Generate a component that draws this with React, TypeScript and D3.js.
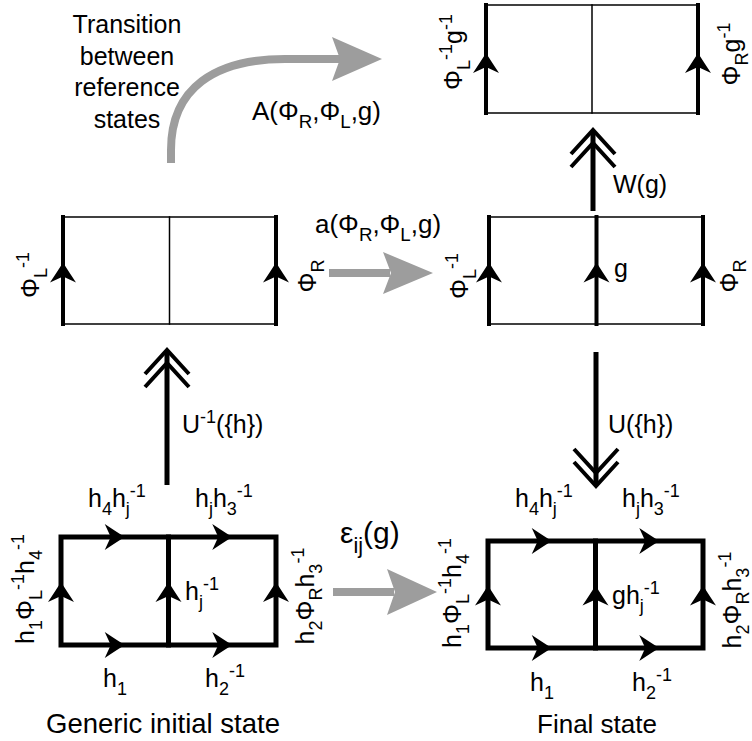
import React, { useEffect, useRef } from 'react';
import * as d3 from 'd3';

// ---- diagram content ----
const titleLines = ['Transition', 'between', 'reference', 'states'];
const captions = ['Generic initial state', 'Final state'];

// label markup: _x / _{..} subscript, ^x / ^{..} superscript
const topBoxLabels = ['Φ_L^{-1}g^{-1}', 'Φ_Rg^{-1}'];
const refBoxLabels = ['Φ_L^{-1}', 'Φ_R'];
const midBoxLabels = ['Φ_L^{-1}', 'g', 'Φ_R'];
const bottomSideLabels = ['h_1Φ_L^{-1}h_4^{-1}', 'h_2Φ_Rh_3^{-1}'];
const bottomTopLabels = ['h_4h_j^{-1}', 'h_jh_3^{-1}'];
const bottomBottomLabels = ['h_1', 'h_2^{-1}'];
const bottomMiddleLabels = ['h_j^{-1}', 'gh_j^{-1}'];
const transitionLabels = ['A(Φ_R,Φ_L,g)', 'a(Φ_R,Φ_L,g)', 'ε_{ij}(g)'];
const moveLabels = ['U^{-1}({h})', 'W(g)', 'U({h})'];

const FONT = "'Liberation Sans', Arial, Helvetica, sans-serif";
const GRAY = '#9d9d9d';

type Part = { text: string; kind: 'n' | 'sub' | 'sup' };

function parseLabel(s: string): Part[] {
  const out: Part[] = [];
  let buf = '';
  let i = 0;
  while (i < s.length) {
    const c = s[i];
    if (c === '_' || c === '^') {
      if (buf) {
        out.push({ text: buf, kind: 'n' });
        buf = '';
      }
      let t = '';
      if (s[i + 1] === '{') {
        const j = s.indexOf('}', i + 2);
        t = s.slice(i + 2, j);
        i = j + 1;
      } else {
        t = s[i + 1];
        i += 2;
      }
      out.push({ text: t, kind: c === '_' ? 'sub' : 'sup' });
    } else {
      buf += c;
      i++;
    }
  }
  if (buf) out.push({ text: buf, kind: 'n' });
  return out;
}

type Sel = d3.Selection<SVGGElement, unknown, null, undefined>;

function addLabel(
  g: Sel,
  str: string,
  x: number,
  y: number,
  opts: { size?: number; anchor?: string; rotate?: boolean } = {}
) {
  const size = opts.size ?? 25;
  const text = g
    .append('text')
    .attr('font-size', size)
    .attr('text-anchor', opts.anchor ?? 'start')
    .attr('fill', '#000');
  if (opts.rotate) {
    text.attr('transform', `translate(${x},${y}) rotate(-90)`);
  } else {
    text.attr('x', x).attr('y', y);
  }
  let shift = 0;
  parseLabel(str).forEach((p) => {
    const target = p.kind === 'sub' ? size * 0.32 : p.kind === 'sup' ? -size * 0.4 : 0;
    text
      .append('tspan')
      .attr('dy', target - shift)
      .attr('font-size', p.kind === 'n' ? size : size * 0.72)
      .text(p.text);
    shift = target;
  });
}

// concave arrowhead on lattice edges, tip at (x,y), pointing 'up' or 'right'
function edgeHead(g: Sel, x: number, y: number, dir: 'up' | 'right') {
  const rot = dir === 'up' ? -90 : 0;
  g.append('path')
    .attr('d', 'M0,0 Q-8,-5 -20,-13 L-14,0 L-20,13 Q-8,5 0,0 Z')
    .attr('transform', `translate(${x},${y}) rotate(${rot})`)
    .attr('fill', '#000');
}

// double chevron for the gauge moves
function chevrons(g: Sel, x: number, tip: number, dir: 'up' | 'down') {
  const s = dir === 'up' ? 1 : -1;
  [0, 13].forEach((off) => {
    const ty = tip + s * off;
    g.append('path')
      .attr('d', `M${x - 22},${ty + s * 24} L${x},${ty} L${x + 22},${ty + s * 24}`)
      .attr('fill', 'none')
      .attr('stroke', '#000')
      .attr('stroke-width', 4);
  });
}

function grayArrow(g: Sel, path: string, tipX: number, tipY: number, half: number) {
  g.append('path')
    .attr('d', path)
    .attr('fill', 'none')
    .attr('stroke', GRAY)
    .attr('stroke-width', 8);
  g.append('path')
    .attr(
      'd',
      `M${tipX},${tipY} L${tipX - 50},${tipY - half} L${tipX - 42},${tipY} L${tipX - 50},${tipY + half} Z`
    )
    .attr('fill', GRAY);
}

export default function App() {
  const ref = useRef<SVGSVGElement>(null);

  useEffect(() => {
    const svg = d3.select(ref.current);
    svg.selectAll('*').remove();
    const g = svg.append('g').attr('font-family', FONT) as unknown as Sel;

    const line = (x1: number, y1: number, x2: number, y2: number, w: number) =>
      g
        .append('line')
        .attr('x1', x1)
        .attr('y1', y1)
        .attr('x2', x2)
        .attr('y2', y2)
        .attr('stroke', '#000')
        .attr('stroke-width', w)
        .attr('stroke-linecap', 'square');

    // ---- top box (target reference state) ----
    {
      const x0 = 486, x1 = 698, y0 = 5, y1 = 113;
      const xm = (x0 + x1) / 2, ym = (y0 + y1) / 2;
      line(x0, y0, x1, y0, 1.5);
      line(x0, y1, x1, y1, 1.5);
      line(xm, y0, xm, y1, 1.5);
      line(x0, y0, x0, y1, 4);
      line(x1, y0, x1, y1, 4);
      edgeHead(g, x0, ym - 6, 'up');
      edgeHead(g, x1, ym - 6, 'up');
      addLabel(g, topBoxLabels[0], 462, 52, { anchor: 'middle', rotate: true });
      addLabel(g, topBoxLabels[1], 740, 54, { anchor: 'middle', rotate: true });
    }

    // ---- middle-left box (reference state) ----
    {
      const x0 = 63, x1 = 276, y0 = 217, y1 = 324;
      const xm = (x0 + x1) / 2, ym = (y0 + y1) / 2;
      line(x0, y0, x1, y0, 1.5);
      line(x0, y1, x1, y1, 1.5);
      line(xm, y0, xm, y1, 1.5);
      line(x0, y0, x0, y1, 4);
      line(x1, y0, x1, y1, 4);
      edgeHead(g, x0, ym - 8, 'up');
      edgeHead(g, x1, ym - 8, 'up');
      addLabel(g, refBoxLabels[0], 39, 275, { anchor: 'middle', rotate: true });
      addLabel(g, refBoxLabels[1], 316, 276, { anchor: 'middle', rotate: true });
    }

    // ---- middle-right box ----
    {
      const x0 = 489, x1 = 703, y0 = 217, y1 = 324;
      const xm = (x0 + x1) / 2 + 0.5, ym = (y0 + y1) / 2;
      line(x0, y0, x1, y0, 1.5);
      line(x0, y1, x1, y1, 1.5);
      line(x0, y0, x0, y1, 4);
      line(xm, y0, xm, y1, 4);
      line(x1, y0, x1, y1, 4);
      [x0, xm, x1].forEach((x) => edgeHead(g, x, ym - 8, 'up'));
      addLabel(g, midBoxLabels[0], 468, 276, { anchor: 'middle', rotate: true });
      addLabel(g, midBoxLabels[1], 614, 277);
      addLabel(g, midBoxLabels[2], 738, 276, { anchor: 'middle', rotate: true });
    }

    // ---- bottom boxes (generic initial / final state) ----
    const bottom = [
      { x0: 61, x1: 276, y0: 537, y1: 645, cx: 163 },
      { x0: 488, x1: 703, y0: 541, y1: 648, cx: 597 },
    ];
    bottom.forEach((b, i) => {
      const xm = (b.x0 + b.x1) / 2;
      const ym = (b.y0 + b.y1) / 2;
      g.append('rect')
        .attr('x', b.x0)
        .attr('y', b.y0)
        .attr('width', b.x1 - b.x0)
        .attr('height', b.y1 - b.y0)
        .attr('fill', 'none')
        .attr('stroke', '#000')
        .attr('stroke-width', 5);
      line(xm, b.y0, xm, b.y1, 5);
      [b.x0, xm, b.x1].forEach((x) => edgeHead(g, x, ym - 9, 'up'));
      [b.y0, b.y1].forEach((y) => {
        edgeHead(g, (b.x0 + xm) / 2 + 10, y, 'right');
        edgeHead(g, (xm + b.x1) / 2 + 10, y, 'right');
      });
      const dx = b.x0 - 61;
      const dy = b.y0 - 537;
      addLabel(g, bottomTopLabels[0], 88 + dx, 507);
      addLabel(g, bottomTopLabels[1], 195 + dx, 507);
      addLabel(g, bottomMiddleLabels[i], 185 + dx, 600 + dy);
      addLabel(g, bottomBottomLabels[0], 103 + dx, 687 + dy);
      addLabel(g, bottomBottomLabels[1], 205 + dx, 687 + dy);
      addLabel(g, bottomSideLabels[0], 34 + dx, 589 + dy, { anchor: 'middle', rotate: true });
      addLabel(g, bottomSideLabels[1], 314 + dx, 596 + dy, { anchor: 'middle', rotate: true });
      addLabel(g, captions[i], b.cx, 733, { anchor: 'middle', size: i === 0 ? 27.5 : 26 });
    });

    // ---- gray transitions ----
    grayArrow(g, 'M171,163 L171,150 C171,88 215,59 285,59 L340,59', 382, 59, 22);
    grayArrow(g, 'M329,273 L390,273', 433, 273, 21);
    grayArrow(g, 'M333,592 L394,592', 437, 592, 23);
    titleLines.forEach((t, i) =>
      addLabel(g, t, 127, 33 + i * 31.7, { anchor: 'middle' })
    );
    addLabel(g, transitionLabels[0], 252, 120, { size: 26 });
    addLabel(g, transitionLabels[1], 315, 233, { size: 26 });
    addLabel(g, transitionLabels[2], 340, 543, { size: 30 });

    // ---- black gauge moves ----
    line(167, 485, 167, 353, 5).attr('stroke-linecap', 'butt');
    chevrons(g, 167, 350, 'up');
    addLabel(g, moveLabels[0], 182, 433);

    line(593, 211, 593, 133, 5).attr('stroke-linecap', 'butt');
    chevrons(g, 593, 130, 'up');
    addLabel(g, moveLabels[1], 613, 193);

    line(596, 352, 596, 483, 5).attr('stroke-linecap', 'butt');
    chevrons(g, 596, 486, 'down');
    addLabel(g, moveLabels[2], 608, 433);
  }, []);

  return (
    <svg
      ref={ref}
      width={752}
      height={741}
      style={{ position: 'absolute', left: 0, top: 0, background: '#fff' }}
    />
  );
}
